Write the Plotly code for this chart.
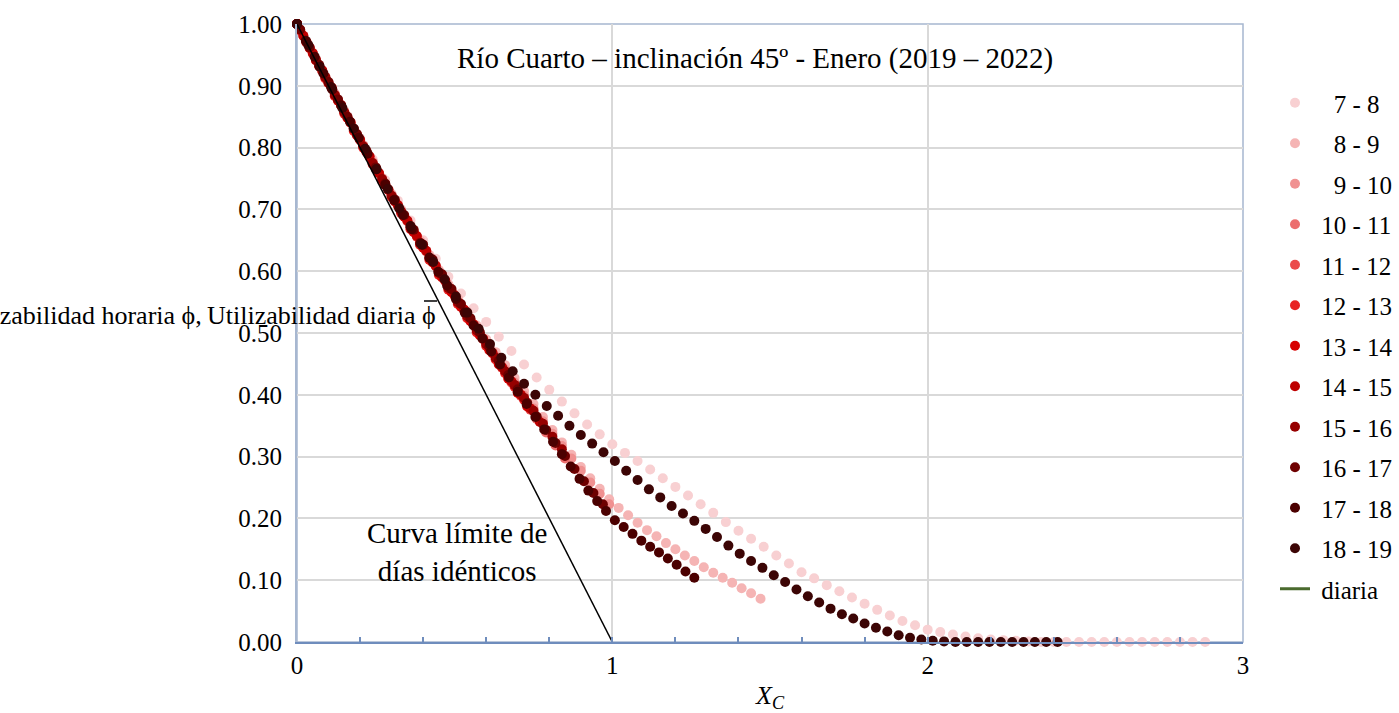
import plotly.graph_objects as go

# ---------------- data ----------------
series_names = ["\u00a0\u00a0\u00a07 - 8", "\u00a0\u00a0\u00a08 - 9", "\u00a0\u00a0\u00a09 - 10", "\u00a010 - 11",
                "\u00a011 - 12", "\u00a012 - 13", "\u00a013 - 14", "\u00a014 - 15", "\u00a015 - 16",
                "\u00a016 - 17", "\u00a017 - 18", "\u00a018 - 19"]
series_colors = ["#f8d0d2", "#f5b4b4", "#f09191", "#ec6e6e", "#eb4b4b", "#e82323",
                 "#d70000", "#be0000", "#960000", "#6e0000", "#4b0000", "#3c0505"]

x_7_8 = [0.00, 0.04, 0.08, 0.12, 0.16, 0.20, 0.24, 0.28, 0.32, 0.36, 0.40, 0.44, 0.48, 0.52, 0.56, 0.60,
         0.64, 0.68, 0.72, 0.76, 0.80, 0.84, 0.88, 0.92, 0.96, 1.00, 1.04, 1.08, 1.12, 1.16, 1.20, 1.24,
         1.28, 1.32, 1.36, 1.40, 1.44, 1.48, 1.52, 1.56, 1.60, 1.64, 1.68, 1.72, 1.76, 1.80, 1.84, 1.88,
         1.92, 1.96, 2.00, 2.04, 2.08, 2.12, 2.16, 2.20, 2.24, 2.28, 2.32, 2.36, 2.40, 2.44, 2.48, 2.52,
         2.56, 2.60, 2.64, 2.68, 2.72, 2.76, 2.80, 2.84, 2.88]
y_7_8 = [1.000, 0.962, 0.924, 0.887, 0.851, 0.815, 0.781, 0.747, 0.714, 0.682, 0.650, 0.620, 0.591, 0.564,
         0.540, 0.518, 0.494, 0.471, 0.449, 0.428, 0.408, 0.389, 0.370, 0.352, 0.336, 0.320, 0.306, 0.293,
         0.279, 0.265, 0.251, 0.237, 0.223, 0.209, 0.194, 0.180, 0.167, 0.154, 0.140, 0.127, 0.113, 0.103,
         0.092, 0.082, 0.072, 0.062, 0.052, 0.043, 0.034, 0.027, 0.020, 0.016, 0.012, 0.009, 0.006, 0.004,
         0.003, 0.002, 0.001, 0.000, 0.000, 0.000, 0.000, 0.000, 0.000, 0.000, 0.000, 0.000, 0.000, 0.000,
         0.000, 0.000, 0.000]

x_8_9 = [0.00, 0.03, 0.06, 0.09, 0.12, 0.15, 0.18, 0.21, 0.24, 0.27, 0.30, 0.33, 0.36, 0.39, 0.42, 0.45,
         0.48, 0.51, 0.54, 0.57, 0.60, 0.63, 0.66, 0.69, 0.72, 0.75, 0.78, 0.81, 0.84, 0.87, 0.90, 0.93,
         0.96, 0.99, 1.02, 1.05, 1.08, 1.11, 1.14, 1.17, 1.20, 1.23, 1.26, 1.29, 1.32, 1.35, 1.38, 1.41,
         1.44, 1.47]
y_8_9 = [1.000, 0.971, 0.943, 0.914, 0.887, 0.859, 0.831, 0.804, 0.778, 0.751, 0.725, 0.700, 0.675, 0.650,
         0.626, 0.602, 0.579, 0.556, 0.534, 0.512, 0.490, 0.469, 0.448, 0.427, 0.406, 0.385, 0.364, 0.343,
         0.323, 0.303, 0.283, 0.265, 0.248, 0.231, 0.217, 0.205, 0.193, 0.181, 0.171, 0.160, 0.150, 0.140,
         0.131, 0.121, 0.112, 0.104, 0.096, 0.087, 0.079, 0.070]

x_9_10 = [0.00, 0.03, 0.06, 0.09, 0.12, 0.15, 0.18, 0.21, 0.24, 0.27, 0.30, 0.33, 0.36, 0.39, 0.42, 0.45,
          0.48, 0.51, 0.54, 0.57, 0.60, 0.63, 0.66, 0.69, 0.72, 0.75, 0.78, 0.81, 0.84, 0.87, 0.90, 0.93,
          0.96, 0.99]
y_9_10 = [1.000, 0.971, 0.942, 0.914, 0.886, 0.858, 0.830, 0.803, 0.776, 0.749, 0.723, 0.697, 0.672, 0.647,
          0.622, 0.598, 0.574, 0.551, 0.528, 0.506, 0.484, 0.462, 0.441, 0.420, 0.399, 0.378, 0.357, 0.337,
          0.317, 0.297, 0.277, 0.258, 0.240, 0.223]

x_10_11 = [0.00, 0.01, 0.04, 0.07, 0.10, 0.13, 0.16, 0.19, 0.22, 0.25, 0.28, 0.31, 0.34, 0.37, 0.40, 0.43,
           0.46, 0.49, 0.52, 0.55, 0.58, 0.61, 0.64, 0.67, 0.70, 0.73, 0.76, 0.79, 0.82, 0.85]
y_10_11 = [1.000, 0.990, 0.962, 0.933, 0.905, 0.877, 0.849, 0.821, 0.794, 0.767, 0.740, 0.714, 0.689, 0.665,
           0.640, 0.616, 0.592, 0.568, 0.544, 0.521, 0.498, 0.474, 0.451, 0.428, 0.405, 0.383, 0.361, 0.339,
           0.318, 0.297]

x_11_12 = [0.00, 0.02, 0.05, 0.08, 0.11, 0.14, 0.17, 0.20, 0.23, 0.26, 0.29, 0.32, 0.35, 0.38, 0.41, 0.44,
           0.47, 0.50, 0.53, 0.56, 0.59, 0.62, 0.65, 0.68, 0.71, 0.74]
y_11_12 = [1.000, 0.981, 0.952, 0.924, 0.896, 0.868, 0.840, 0.812, 0.785, 0.758, 0.731, 0.706, 0.681, 0.656,
           0.632, 0.608, 0.584, 0.560, 0.537, 0.513, 0.490, 0.467, 0.444, 0.420, 0.398, 0.376]

x_12_13 = [0.00, 0.03, 0.06, 0.09, 0.12, 0.15, 0.18, 0.21, 0.24, 0.27, 0.30, 0.33, 0.36, 0.39, 0.42, 0.45,
           0.48, 0.51, 0.54, 0.57, 0.60, 0.63, 0.66, 0.69, 0.72]
y_12_13 = [1.000, 0.970, 0.941, 0.912, 0.883, 0.855, 0.827, 0.800, 0.773, 0.746, 0.720, 0.694, 0.668, 0.643,
           0.618, 0.594, 0.570, 0.547, 0.524, 0.501, 0.479, 0.457, 0.435, 0.413, 0.392]

x_13_14 = [0.00, 0.01, 0.04, 0.07, 0.10, 0.13, 0.16, 0.19, 0.22, 0.25, 0.28, 0.31, 0.34, 0.37, 0.40, 0.43,
           0.46, 0.49, 0.52, 0.55, 0.58, 0.61, 0.64, 0.67, 0.70, 0.73]
y_13_14 = [1.000, 0.990, 0.961, 0.932, 0.904, 0.876, 0.848, 0.820, 0.793, 0.766, 0.739, 0.713, 0.688, 0.663,
           0.638, 0.614, 0.590, 0.566, 0.542, 0.519, 0.496, 0.472, 0.449, 0.426, 0.403, 0.381]

x_14_15 = [0.00, 0.02, 0.05, 0.08, 0.11, 0.14, 0.17, 0.20, 0.23, 0.26, 0.29, 0.32, 0.35, 0.38, 0.41, 0.44,
           0.47, 0.50, 0.53, 0.56, 0.59, 0.62, 0.65, 0.68, 0.71, 0.74, 0.77]
y_14_15 = [1.000, 0.981, 0.953, 0.925, 0.897, 0.869, 0.841, 0.813, 0.786, 0.759, 0.732, 0.707, 0.682, 0.657,
           0.633, 0.609, 0.585, 0.561, 0.538, 0.514, 0.491, 0.468, 0.445, 0.422, 0.400, 0.378, 0.356]

x_15_16 = [0.00, 0.03, 0.06, 0.09, 0.12, 0.15, 0.18, 0.21, 0.24, 0.27, 0.30, 0.33, 0.36, 0.39, 0.42, 0.45,
           0.48, 0.51, 0.54, 0.57, 0.60, 0.63, 0.66, 0.69, 0.72, 0.75, 0.78, 0.81, 0.84]
y_15_16 = [1.000, 0.971, 0.942, 0.914, 0.885, 0.857, 0.830, 0.802, 0.775, 0.749, 0.722, 0.697, 0.671, 0.646,
           0.621, 0.597, 0.573, 0.550, 0.527, 0.504, 0.482, 0.460, 0.438, 0.416, 0.395, 0.374, 0.353, 0.332,
           0.312]

x_16_17 = [0.00, 0.01, 0.04, 0.07, 0.10, 0.13, 0.16, 0.19, 0.22, 0.25, 0.28, 0.31, 0.34, 0.37, 0.40, 0.43,
           0.46, 0.49, 0.52, 0.55, 0.58, 0.61, 0.64, 0.67, 0.70, 0.73, 0.76, 0.79, 0.82, 0.85, 0.88, 0.91,
           0.94, 0.97]
y_16_17 = [1.000, 0.991, 0.962, 0.934, 0.906, 0.878, 0.850, 0.822, 0.795, 0.768, 0.742, 0.716, 0.691, 0.667,
           0.643, 0.619, 0.595, 0.571, 0.547, 0.524, 0.501, 0.478, 0.455, 0.432, 0.409, 0.387, 0.365, 0.343,
           0.322, 0.301, 0.280, 0.260, 0.241, 0.223]

x_17_18 = [0.000, 0.028, 0.056, 0.084, 0.112, 0.140, 0.168, 0.196, 0.224, 0.252, 0.280, 0.308, 0.336, 0.364,
           0.392, 0.420, 0.448, 0.476, 0.504, 0.532, 0.560, 0.588, 0.616, 0.644, 0.672, 0.700, 0.728, 0.756,
           0.784, 0.812, 0.840, 0.868, 0.896, 0.924, 0.952, 0.980, 1.008, 1.036, 1.064, 1.092, 1.120, 1.148,
           1.176, 1.204, 1.232, 1.260]
y_17_18 = [1.000, 0.973, 0.947, 0.920, 0.894, 0.868, 0.842, 0.816, 0.790, 0.765, 0.740, 0.715, 0.691, 0.668,
           0.645, 0.622, 0.599, 0.577, 0.555, 0.533, 0.512, 0.491, 0.470, 0.449, 0.428, 0.405, 0.385, 0.364,
           0.344, 0.324, 0.304, 0.284, 0.264, 0.245, 0.228, 0.212, 0.197, 0.186, 0.175, 0.164, 0.154, 0.145,
           0.135, 0.125, 0.114, 0.104]

x_18_19 = [0.000, 0.036, 0.072, 0.108, 0.144, 0.180, 0.216, 0.252, 0.288, 0.324, 0.360, 0.396, 0.432, 0.468,
           0.504, 0.540, 0.576, 0.612, 0.648, 0.684, 0.720, 0.756, 0.792, 0.828, 0.864, 0.900, 0.936, 0.972,
           1.008, 1.044, 1.080, 1.116, 1.152, 1.188, 1.224, 1.260, 1.296, 1.332, 1.368, 1.404, 1.440, 1.476,
           1.512, 1.548, 1.584, 1.620, 1.656, 1.692, 1.728, 1.764, 1.800, 1.836, 1.872, 1.908, 1.944, 1.980,
           2.016, 2.052, 2.088, 2.124, 2.160, 2.196, 2.232, 2.268, 2.304, 2.340, 2.376, 2.412]
y_18_19 = [1.000, 0.966, 0.931, 0.898, 0.864, 0.831, 0.798, 0.765, 0.733, 0.702, 0.673, 0.643, 0.615, 0.587,
           0.559, 0.533, 0.507, 0.482, 0.460, 0.438, 0.418, 0.400, 0.382, 0.366, 0.350, 0.335, 0.321, 0.307,
           0.293, 0.277, 0.262, 0.247, 0.234, 0.220, 0.208, 0.196, 0.183, 0.170, 0.156, 0.143, 0.131, 0.120,
           0.108, 0.097, 0.085, 0.074, 0.064, 0.054, 0.045, 0.038, 0.030, 0.023, 0.017, 0.011, 0.007, 0.004,
           0.002, 0.001, 0.000, 0.000, 0.000, 0.000, 0.000, 0.000, 0.000, 0.000, 0.000, 0.000]

series_x = [x_7_8, x_8_9, x_9_10, x_10_11, x_11_12, x_12_13, x_13_14, x_14_15, x_15_16, x_16_17, x_17_18, x_18_19]
series_y = [y_7_8, y_8_9, y_9_10, y_10_11, y_11_12, y_12_13, y_13_14, y_14_15, y_15_16, y_16_17, y_17_18, y_18_19]

# daily utilizability: only its starting value is readable (the rest is hidden under the hourly dots)
diaria_x = [0.0]
diaria_y = [1.0]

# identical-days limit curve
limit_x = [0, 1]
limit_y = [1, 0]

x_ticks = [0, 1, 2, 3]
y_ticks = [0.0, 0.1, 0.2, 0.3, 0.4, 0.5, 0.6, 0.7, 0.8, 0.9, 1.0]

# ---------------- figure ----------------
FONT = "Liberation Serif"
fig = go.Figure()

for name, col, xs, ys in zip(series_names, series_colors, series_x, series_y):
    fig.add_trace(go.Scatter(
        x=xs, y=ys, mode="markers", name=name, legendgroup=name,
        marker=dict(color=col, size=10, line=dict(width=0)),
        cliponaxis=False,
    ))

fig.add_trace(go.Scatter(
    x=diaria_x, y=diaria_y, mode="lines", name="\u00a0diaria", legendgroup="diaria",
    line=dict(color="#4a6a2e", width=3),
))

fig.add_trace(go.Scatter(
    x=limit_x, y=limit_y, mode="lines", showlegend=False,
    line=dict(color="black", width=1.5), cliponaxis=False,
))

W, H = 1399, 713
L, R, T, B = 297, 156, 24, 71
pw, ph = W - L - R, H - T - B


def px_x(p):
    return (p - L) / pw


def px_y(p):
    return (H - B - p) / ph


fig.update_layout(
    width=W, height=H,
    margin=dict(l=L, r=R, t=T, b=B, pad=0, autoexpand=False),
    paper_bgcolor="white", plot_bgcolor="white",
    font=dict(family=FONT, size=25, color="black"),
    showlegend=True,
    legend=dict(
        x=px_x(1275), y=px_y(80), xanchor="left", yanchor="top",
        font=dict(family=FONT, size=25, color="black"),
        tracegroupgap=5, bgcolor="rgba(0,0,0,0)", borderwidth=0,
        traceorder="grouped",
    ),
    xaxis=dict(
        range=[0, 3], tickvals=x_ticks, ticktext=[str(v) for v in x_ticks],
        showgrid=True, gridcolor="#d9d9d9", gridwidth=1.5,
        showline=True, linecolor="#6f8dbd", linewidth=2,
        ticks="inside", ticklen=5, tickcolor="#6f8dbd", tickwidth=1.5,
        minor=dict(dtick=0.2, tick0=0, ticks="inside", ticklen=5, tickcolor="#6f8dbd",
                   tickwidth=1.5, showgrid=False),
        zeroline=False,
        tickfont=dict(family=FONT, size=25),
        title=dict(text="<i>X<sub>C</sub></i>", font=dict(family=FONT, size=26), standoff=12),
    ),
    yaxis=dict(
        range=[0, 1], tickvals=y_ticks, tickformat=".2f",
        showgrid=True, gridcolor="#d9d9d9", gridwidth=1.5,
        showline=True, linecolor="#a7b7d0", linewidth=2,
        ticks="", zeroline=False,
        tickfont=dict(family=FONT, size=25),
        ticklabelstandoff=8,
    ),
    shapes=[
        dict(type="rect", xref="paper", yref="paper", x0=0, x1=1, y0=0, y1=1,
             line=dict(color="#a7b7d0", width=1.5), layer="below"),
        # overline of the daily-utilizability symbol in the axis caption
        dict(type="line", xref="paper", yref="paper", x0=px_x(424), x1=px_x(437),
             y0=px_y(301), y1=px_y(301), line=dict(color="black", width=1.5), layer="above"),
    ],
    annotations=[
        dict(text="Río Cuarto – inclinación 45º - Enero (2019 – 2022)", xref="paper", yref="paper",
             x=px_x(755), y=px_y(58), xanchor="center", yanchor="middle", showarrow=False,
             font=dict(family=FONT, size=29)),
        dict(text="Utilizabilidad horaria ϕ,\u2009Utilizabilidad diaria ϕ", xref="paper", yref="paper",
             x=px_x(438), y=px_y(315), xanchor="right", yanchor="middle", showarrow=False,
             font=dict(family=FONT, size=26)),
        dict(text="Curva límite de<br>días idénticos", xref="paper", yref="paper",
             x=px_x(457), y=px_y(552), xanchor="center", yanchor="middle", showarrow=False,
             align="center", font=dict(family=FONT, size=29)),
        dict(text="(", xref="paper", yref="paper", x=px_x(968), y=px_y(-14), xanchor="center",
             yanchor="middle", showarrow=False, font=dict(family=FONT, size=25)),
        dict(text=")", xref="paper", yref="paper", x=px_x(1188), y=px_y(-14), xanchor="center",
             yanchor="middle", showarrow=False, font=dict(family=FONT, size=25)),
    ],
)

fig.write_html("out.html")
